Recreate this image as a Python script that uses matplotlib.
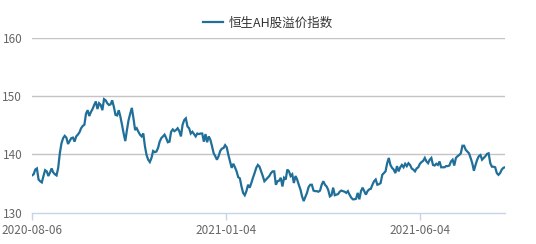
import matplotlib
matplotlib.use("Agg")
import matplotlib.pyplot as plt
import numpy as np

plt.rcParams['font.family'] = ['Noto Sans CJK SC', 'DejaVu Sans']

series_name = "恒生AH股溢价指数"
tick_labels = ["2020-08-06", "2021-01-04", "2021-06-04"]
tick_fractions = [0.0, 0.41, 0.82]
y_ticks = [130, 140, 150, 160]

values_part1 = [
    136.4, 136.6, 137.4, 137.6, 135.7, 135.4, 135.2, 136.3, 137.3, 137.1,
    136.3, 136.9, 137.6, 136.9, 136.6, 136.4, 137.7, 140.2, 141.9, 142.8,
    143.2, 142.9, 141.8, 142.3, 142.8, 142.9, 142.2, 143.1, 143.4, 143.8,
    144.5, 144.9, 145.1, 147.0, 147.6, 146.6, 147.3, 147.8, 148.5, 149.1,
    147.8, 148.8, 148.5, 147.6, 149.5, 149.3, 148.8, 148.5, 148.6, 149.3,
    148.2, 146.8, 146.7, 147.6, 146.5, 145.1, 143.6, 142.3, 144.2, 145.9,
    147.0, 148.0, 146.2, 144.2, 144.5, 143.9, 143.4, 143.1, 143.6, 141.4,
    139.9, 139.1, 138.7, 139.4, 140.6, 140.4, 140.5, 141.1, 142.2, 142.8,
    143.1, 143.4, 142.8, 142.1, 142.2, 143.9, 144.3, 144.0, 144.2, 144.5,
    144.0, 143.1,
]
values_part2 = [
    145.1, 145.9, 146.2, 144.8, 144.5, 143.6, 143.9, 143.5, 143.1, 143.6,
    143.5, 143.6, 143.6, 142.2, 143.5, 142.1, 143.1, 142.5, 141.4, 140.2,
    139.7, 139.1, 139.7, 140.6, 141.0, 141.1, 141.6, 141.2, 139.9, 138.8,
    137.7, 138.4, 137.8, 137.1, 136.1, 135.9, 134.5, 133.4, 133.0, 133.7,
    134.8, 134.3, 135.1, 136.0, 136.8, 137.7, 138.2, 137.9, 137.1, 136.3,
    135.4, 135.7, 136.0, 136.3, 136.8, 137.1, 137.1, 134.8, 135.4, 135.5,
    136.0, 134.5, 136.0, 135.7, 137.4, 137.1, 136.3, 136.6, 135.1, 136.3,
    135.7, 134.8, 134.0, 132.8, 132.0, 132.7, 133.4, 134.4, 134.8, 134.8,
    133.8, 133.7, 133.7, 133.6, 133.8, 134.8, 135.4, 134.8, 134.5, 133.9,
    132.8, 133.0, 134.3, 133.0, 133.1, 133.2, 133.6, 133.8, 133.7,
]
values_part3 = [
    133.6, 133.4, 133.7, 133.1, 132.6, 132.3, 132.3, 132.4, 133.4, 132.3,
    133.7, 134.3, 133.7, 133.1, 133.7, 134.0, 134.1, 134.8, 135.4, 135.7,
    134.8, 134.9, 135.1, 136.5, 136.8, 137.1, 138.5, 139.4, 138.2, 137.7,
    137.4, 136.8, 138.0, 137.1, 137.8, 138.2, 137.8, 138.4, 138.0, 138.5,
    138.2, 137.6, 137.4, 137.1, 137.6, 137.8, 138.4, 138.7, 138.9, 139.4,
    138.8, 138.5, 139.1, 139.4, 138.2, 138.1, 138.4, 138.2, 138.8, 137.8,
    137.8, 137.8, 138.0, 138.0, 138.1, 138.8, 139.1, 138.1, 139.4, 139.7,
    139.9, 140.2, 141.5, 141.5, 140.8, 140.5, 140.2, 139.4, 138.5, 137.2,
    138.2, 139.1, 139.7, 139.9, 139.1, 139.4, 139.7, 140.1, 140.2, 138.5,
    137.9, 137.9, 137.8, 136.8, 136.5, 136.8, 137.4, 137.7, 137.8,
]
values = values_part1 + values_part2 + values_part3

fig = plt.figure(figsize=(5.36, 2.44), dpi=100)
ax = fig.add_axes([32/536, 1-212.7/244, (505-32)/536, (212.7-38)/244])

x = np.arange(len(values))
line_color = '#1f6f99'
ax.plot(x, values, color=line_color, lw=1.6, label=series_name, solid_joinstyle='miter')

ax.set_xlim(0, len(values) - 1)
ax.set_ylim(130, 160)
ax.set_yticks(y_ticks)
ax.set_yticklabels([str(v) for v in y_ticks])
ax.set_xticks([f * (len(values) - 1) for f in tick_fractions])
ax.set_xticklabels(tick_labels)

for v in y_ticks[1:]:
    ax.axhline(v, color='#c4c4c4', lw=1.0, zorder=0)

for s in ['top', 'right', 'left']:
    ax.spines[s].set_visible(False)
ax.spines['bottom'].set_color('#c6d4e6')
ax.spines['bottom'].set_linewidth(1.0)

ax.tick_params(axis='y', length=0, pad=7, labelsize=8.5, labelcolor='#666666')
ax.tick_params(axis='x', length=5, width=1, color='#c6d4e6', pad=3, labelsize=8.5, labelcolor='#666666')

leg = fig.legend(loc='center', bbox_to_anchor=(268/536, 1-23/244), frameon=False,
                 fontsize=9, handlelength=1.6, handletextpad=0.5)
for t in leg.get_texts():
    t.set_color('#333333')

fig.savefig('out.png', dpi=100)
